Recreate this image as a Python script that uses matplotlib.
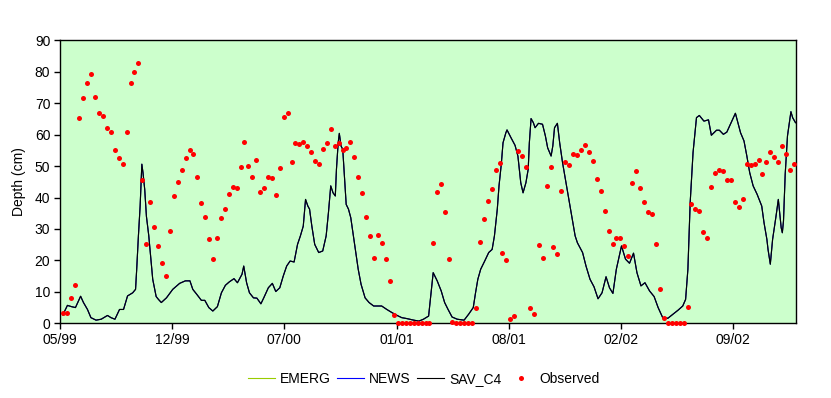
import matplotlib
matplotlib.use("Agg")
import matplotlib.pyplot as plt

plt.rcParams['font.family'] = ['Liberation Sans', 'DejaVu Sans']

# x values are days since the first axis tick
tick_labels = ['05/99', '12/99', '07/00', '01/01', '08/01', '02/02', '09/02']
tick_step_days = 196

line_days = [5, 13, 20, 27, 36, 41, 48, 54, 63, 72, 83, 89, 96, 104, 111, 118, 127, 132,
             134, 137, 140, 143, 145, 148, 151, 155, 158, 162, 168, 172, 177, 186, 197,
             209, 219, 227, 232, 239, 247, 253, 260, 267, 275, 282, 289, 296, 304, 310,
             318, 321, 326, 331, 338, 344, 351, 356, 364, 371, 377, 384, 390, 396, 402,
             409, 415, 420, 425, 429, 433, 436, 440, 445, 452, 459, 465, 469, 473, 477,
             481, 483, 486, 488, 491, 494, 497, 500, 504, 508, 511, 516, 521, 526, 533,
             540, 548, 562, 571, 580, 589, 597, 606, 618, 627, 635, 644, 649, 652, 659,
             666, 672, 678, 685, 694, 706, 714, 722, 726, 730, 735, 742, 749, 755, 759,
             764, 767, 771, 774, 779, 781, 788, 795, 800, 805, 809, 814, 818, 820, 823,
             827, 830, 836, 843, 848, 852, 858, 861, 864, 869, 873, 878, 884, 890, 896,
             900, 904, 913, 919, 926, 933, 940, 947, 954, 960, 966, 972, 981, 988, 995,
             1002, 1008, 1015, 1022, 1030, 1038, 1045, 1053, 1062, 1071, 1080, 1088,
             1093, 1097, 1101, 1106, 1112, 1117, 1125, 1133, 1138, 1147, 1152, 1159,
             1165, 1173, 1180, 1185, 1189, 1195, 1200, 1205, 1211, 1218, 1226, 1230,
             1235, 1237, 1241, 1245, 1251, 1255, 1258, 1260, 1262, 1264, 1267, 1271,
             1277, 1280, 1285]

sav_c4 = [2.7, 5.7, 5.3, 5.0, 8.6, 6.6, 4.4, 1.8, 1.0, 1.3, 2.5, 1.8, 1.3, 4.4, 4.4, 8.7, 9.7, 10.8,
          17.2, 27.8, 37.3, 50.6, 47.9, 42.6, 34.0, 28.0, 22.0, 14.0, 8.5, 7.6, 6.6, 8.1, 10.8,
          12.7, 13.5, 13.5, 10.8, 9.2, 7.3, 7.3, 5.0, 3.9, 5.3, 9.7, 12.1, 13.2, 14.2, 12.9,
          15.6, 18.2, 12.9, 9.7, 8.1, 8.0, 6.2, 8.1, 11.3, 12.7, 10.1, 11.3, 15.0, 18.2, 19.8,
          19.5, 25.1, 27.8, 30.9, 39.4, 37.3, 36.3, 30.9, 25.1, 22.5, 23.0, 27.8, 35.2, 43.7, 41.5,
          40.5, 49.0, 57.4, 60.4, 56.4, 55.3, 46.8, 37.8, 36.3, 33.6, 29.9, 23.5, 17.2, 12.4, 8.1,
          6.6, 5.5, 5.5, 4.4, 3.4, 2.5, 1.8, 1.5, 1.0, 0.7, 1.3, 2.3, 10.8, 16.1, 13.5,
          10.3, 6.6, 4.4, 2.0, 1.3, 1.0, 2.9, 5.0, 9.7, 14.0, 17.2, 19.8, 22.5, 23.5, 27.8,
          36.3, 43.7, 50.6, 57.4, 60.6, 61.5, 59.0, 56.6, 53.2, 44.7, 41.5, 44.7, 49.0, 57.4, 65.1,
          63.8, 62.2, 63.6, 63.3, 59.6, 55.8, 53.2, 56.4, 62.2, 63.6, 57.4, 51.1, 44.7, 38.4, 32.0,
          27.8, 25.6, 22.5, 18.2, 14.0, 11.6, 7.8, 9.7, 14.8, 11.3, 9.5, 17.2, 24.6, 20.4, 19.1,
          22.3, 16.1, 11.9, 12.9, 10.3, 8.5, 5.0, 1.8, 1.6, 2.9, 4.2, 5.5,
          7.6, 17.2, 38.4, 54.3, 65.4, 66.1, 64.3, 64.7, 59.8, 61.4, 61.4, 60.1,
          60.8, 64.0, 66.8, 63.3, 60.6, 58.0, 53.2, 47.9, 43.7, 41.0, 37.3, 32.0,
          26.7, 23.5, 18.8, 26.7, 34.1, 39.4, 34.1, 30.4, 28.8, 32.5, 47.4, 59.6,
          67.3, 65.4, 63.8]

# EMERG and NEWS coincide with SAV_C4 and are hidden beneath it
emerg = list(sav_c4)
news = list(sav_c4)

obs_days = [6, 13, 20, 27, 34, 41, 47, 54, 61, 68, 75, 82, 89, 96, 103, 110, 117, 124, 130, 136,
            143, 150, 157, 164, 171, 178, 185, 192, 199, 206, 213, 220, 227, 232, 239, 246, 253,
            260, 267, 274, 281, 288, 295, 302, 309, 316, 321, 328, 335, 342, 349, 356, 363, 370,
            377, 384, 391, 398, 405, 410, 417, 424, 431, 438, 445, 452, 459, 466, 473, 480, 487,
            494, 499, 506, 513, 520, 527, 534, 541, 548, 555, 562, 569, 576, 583, 590, 597, 604,
            611, 618, 625, 632, 639, 645, 652, 659, 666, 673, 680, 684, 691, 698, 705, 712, 719,
            726, 733, 740, 747, 754, 761, 768, 773, 780, 787, 794, 801, 808, 815, 822, 829, 836,
            843, 850, 857, 862, 869, 876, 883, 890, 897, 904, 911, 918, 925, 932, 939, 946, 953,
            959, 966, 972, 979, 986, 993, 1000, 1007, 1014, 1021, 1028, 1035, 1042, 1048, 1055,
            1062, 1069, 1076, 1083, 1090, 1097, 1103, 1110, 1117, 1124, 1131, 1137, 1144, 1151,
            1158, 1165, 1172, 1179, 1186, 1193, 1200, 1207, 1214, 1221, 1226, 1233, 1240, 1247,
            1254, 1261, 1268, 1275, 1282]

observed = [3.4, 3.4, 8.2, 12.3, 65.4, 71.8, 76.5, 79.4, 72.1, 67.0, 66.0, 62.2, 60.9, 55.2, 52.7,
            50.8, 60.9, 76.5, 80.0, 82.9, 45.7, 25.3, 38.7, 30.7, 24.7, 19.3, 14.9, 29.5, 40.6,
            45.0, 48.9, 52.7, 55.2, 53.9, 46.6, 38.4, 33.9, 26.9, 20.6, 27.2, 33.6, 36.5, 41.2,
            43.5, 43.1, 49.8, 57.8, 50.1, 46.6, 52.0, 41.9, 43.1, 46.6, 46.3, 40.9, 49.5, 65.7,
            67.0, 51.4, 57.4, 57.1, 57.8, 56.5, 54.6, 51.7, 50.8, 55.5, 57.4, 61.9, 56.5, 57.4,
            55.2, 55.9, 57.8, 53.0, 46.6, 41.5, 33.9, 27.9, 20.9, 28.2, 25.6, 20.6, 13.6, 2.7,
            0, 0, 0, 0, 0, 0, 0, 0, 0,
            25.6, 41.9, 44.4, 35.5, 20.6,
            0.4, 0, 0, 0, 0, 0,
            5.0, 26.0, 33.3, 39.0, 42.8, 48.9, 51.1, 22.5, 20.2, 1.5, 2.4, 54.9, 53.3, 49.8, 5.0,
            3.1, 25.0, 20.9, 43.8, 49.8, 24.4, 22.1, 42.2, 51.4, 50.4, 53.9, 53.6, 55.2, 56.8,
            54.6, 51.7, 46.0, 42.2, 35.8, 29.5, 25.3, 27.2, 27.2, 24.7, 21.5, 44.7, 48.5, 43.1,
            38.7, 35.5, 34.9, 25.3, 11.0, 1.8,
            0, 0, 0, 0, 0,
            5.3, 38.0, 36.5, 35.8, 29.1, 27.2, 43.4, 47.9, 48.9, 48.5, 45.7, 45.7, 38.7, 37.1,
            39.6, 50.8, 50.4, 50.8, 52.0, 47.6, 51.4, 54.6, 53.0, 51.4, 56.5, 53.9, 48.9, 50.8]

FS = 10

fig = plt.figure(figsize=(8.31, 3.98), dpi=100)
ax = fig.add_axes([60 / 831, 1 - 323.3 / 398, 735.5 / 831, 283 / 398])
ax.set_facecolor('#CCFFCC')

ax.plot(line_days, emerg, color='#99CC00', lw=0.8, label='EMERG')
ax.plot(line_days, news, color='#0000FF', lw=0.8, label='NEWS')
ax.plot(line_days, sav_c4, color='black', lw=0.8, label='SAV_C4')
ax.plot(obs_days, observed, linestyle='none', marker='o', markersize=3.6,
        markerfacecolor='#FF0000', markeredgecolor='#FF0000', markeredgewidth=0,
        label='Observed', clip_on=False, zorder=5)

ax.set_xlim(0, 1285)
ax.set_ylim(0, 90)
ax.set_yticks(range(0, 91, 10))
ax.set_xticks([i * tick_step_days for i in range(len(tick_labels))])
ax.set_xticklabels(tick_labels)
ax.tick_params(axis='both', direction='out', length=4, width=1, labelsize=FS,
               colors='black', pad=3)
for s in ax.spines.values():
    s.set_linewidth(1.0)
    s.set_color('black')
ax.set_ylabel('Depth (cm)', fontsize=FS, labelpad=6)

leg = fig.legend(loc='center', bbox_to_anchor=(424 / 831, 1 - 379 / 398), ncol=4,
                 frameon=False, fontsize=FS, handlelength=1.9, handletextpad=0.4,
                 columnspacing=0.45, numpoints=1)

fig.savefig('out.png', dpi=100, facecolor='white')
